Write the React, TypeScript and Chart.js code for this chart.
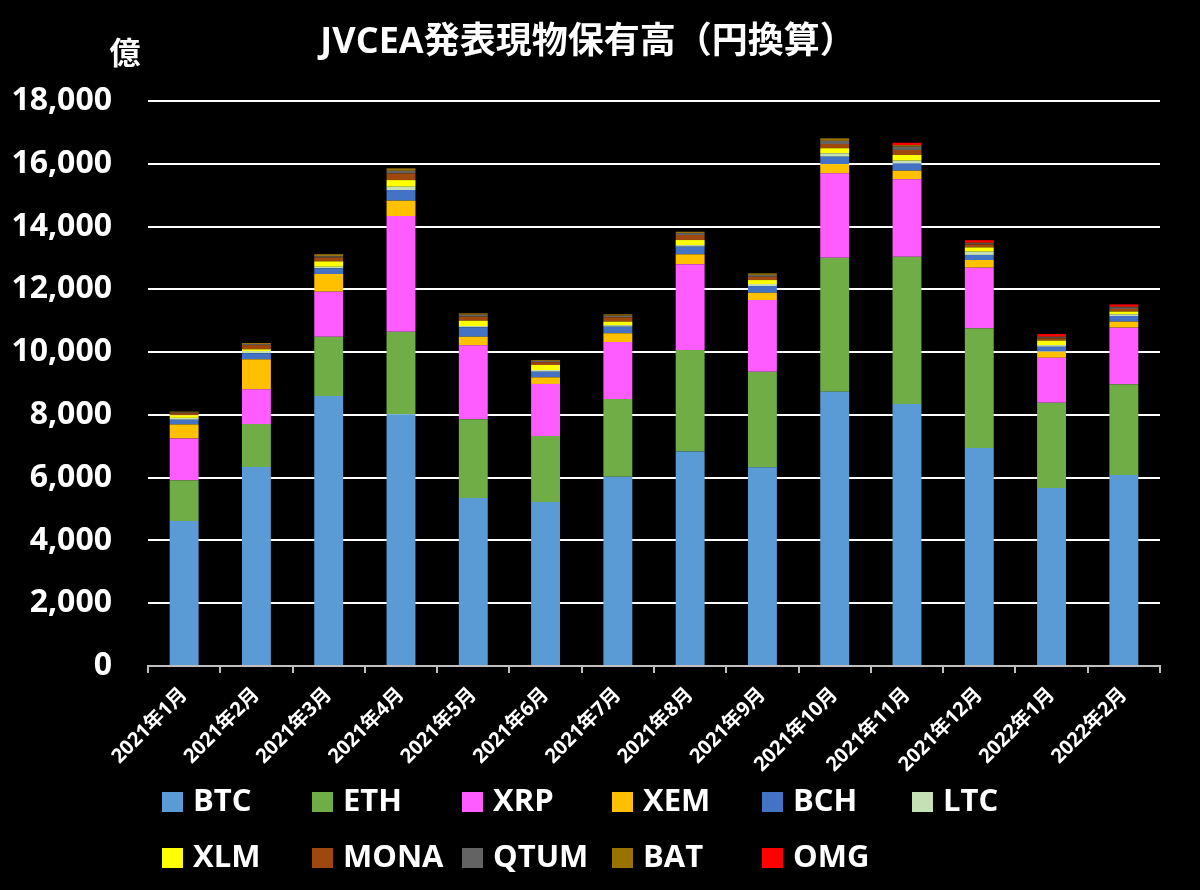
import React, { useEffect, useRef } from "react";
import { Chart, registerables } from "chart.js";

Chart.register(...registerables);

const TITLE = "JVCEA発表現物保有高（円換算）";
const UNIT = "億";
const CATEGORIES = [
  "2021年1月", "2021年2月", "2021年3月", "2021年4月", "2021年5月", "2021年6月", "2021年7月",
  "2021年8月", "2021年9月", "2021年10月", "2021年11月", "2021年12月", "2022年1月", "2022年2月",
];
const BTC = [4620, 6340, 8600, 8020, 5350, 5225, 6030, 6830, 6330, 8740, 8345, 6945, 5670, 6085];
const ETH = [1300, 1370, 1890, 2630, 2510, 2105, 2475, 3235, 3045, 4270, 4695, 3815, 2720, 2890];
const XRP = [1330, 1105, 1435, 3685, 2355, 1655, 1815, 2735, 2285, 2685, 2465, 1930, 1430, 1805];
const XEM = [445, 955, 565, 490, 275, 210, 280, 315, 230, 295, 275, 245, 195, 190];
const BCH = [150, 195, 180, 340, 300, 180, 210, 245, 215, 235, 235, 160, 155, 180];
const LTC = [60, 70, 50, 105, 40, 55, 50, 50, 65, 110, 85, 105, 55, 55];
const XLM = [80, 55, 170, 210, 170, 160, 110, 160, 125, 160, 180, 135, 140, 85];
const MONA = [70, 135, 120, 215, 130, 90, 140, 160, 105, 135, 160, 95, 75, 85];
const QTUM = [20, 30, 40, 80, 60, 40, 50, 60, 60, 100, 105, 35, 30, 50];
const BAT = [30, 35, 70, 80, 45, 30, 45, 45, 50, 80, 50, 20, 20, 20];
const OMG = [0, 0, 0, 0, 0, 0, 0, 0, 0, 0, 75, 80, 85, 75];

const SERIES_NAMES = ["BTC", "ETH", "XRP", "XEM", "BCH", "LTC", "XLM", "MONA", "QTUM", "BAT", "OMG"];
const SERIES_VALUES = [BTC, ETH, XRP, XEM, BCH, LTC, XLM, MONA, QTUM, BAT, OMG];
const SERIES_COLORS = [
  "#5B9BD5", "#70AD47", "#FF5CFF", "#FFC000", "#4472C4", "#C5E0B4",
  "#FFFF00", "#9E480E", "#636363", "#997300", "#FF0000",
];
const Y_MAX = 18000;
const Y_STEP = 2000;

const FONT = "'Open Sans', 'Noto Sans CJK JP', sans-serif";

const overlayPlugin = {
  id: "overlay",
  afterDraw(chart: any) {
    const ctx = chart.ctx;
    ctx.save();
    ctx.fillStyle = "#ffffff";
    ctx.textBaseline = "middle";
    // title
    ctx.font = `bold 36px ${FONT}`;
    ctx.textAlign = "center";
    ctx.fillText(TITLE, 588, 43);
    // unit
    ctx.font = `bold 31px 'Noto Sans CJK JP', sans-serif`;
    ctx.fillText(UNIT, 125, 52);
    // legend
    ctx.textAlign = "left";
    ctx.font = `bold 31px ${FONT}`;
    const ds = chart.data.datasets;
    ds.forEach((d: any, i: number) => {
      const row = i < 6 ? 0 : 1;
      const col = i < 6 ? i : i - 6;
      const x = 162 + col * 150;
      const y = row === 0 ? 802 : 858;
      ctx.fillStyle = d.backgroundColor;
      ctx.fillRect(x, y - 10, 21, 20);
      ctx.fillStyle = "#ffffff";
      ctx.fillText(d.label, x + 31, y);
    });
    ctx.restore();
  },
};

export default function App() {
  const ref = useRef<HTMLCanvasElement | null>(null);
  useEffect(() => {
    if (!ref.current) return;
    const chart = new Chart(ref.current, {
      type: "bar",
      data: {
        labels: CATEGORIES,
        datasets: SERIES_NAMES.map((name, i) => ({
          label: name,
          data: SERIES_VALUES[i],
          backgroundColor: SERIES_COLORS[i],
          borderWidth: 0,
          barPercentage: 0.4,
          categoryPercentage: 1,
        })),
      },
      options: {
        animation: false,
        responsive: false,
        maintainAspectRatio: false,
        layout: { padding: { top: 101, right: 40, left: 0, bottom: 110 } },
        plugins: {
          legend: { display: false },
          title: { display: false },
          tooltip: { enabled: false },
        },
        scales: {
          x: {
            stacked: true,
            afterFit: (s: any) => { s.height = 114; },
            border: { display: true, color: "#bfbfbf", width: 2 },
            grid: {
              display: true,
              offset: true,
              drawOnChartArea: false,
              drawTicks: true,
              tickLength: 7,
              color: "#bfbfbf",
              lineWidth: 2,
            },
            ticks: {
              color: "#ffffff",
              font: { family: FONT, size: 20, weight: "bold" },
              minRotation: 45,
              maxRotation: 45,
              autoSkip: false,
              padding: 10,
            },
          },
          y: {
            stacked: true,
            min: 0,
            max: Y_MAX,
            afterFit: (s: any) => { s.width = 148; },
            border: { display: false },
            grid: {
              drawTicks: false,
              color: (c: any) => (c.tick && c.tick.value === 0 ? "rgba(0,0,0,0)" : "#ffffff"),
              lineWidth: 2,
            },
            ticks: {
              stepSize: Y_STEP,
              color: "#ffffff",
              padding: 36,
              font: { family: FONT, size: 32, weight: "bold" },
              callback: (v: any) => Number(v).toLocaleString("en-US"),
            },
          },
        },
      },
      plugins: [overlayPlugin],
    });
    return () => chart.destroy();
  }, []);
  return (
    <div style={{ position: "fixed", left: 0, top: 0, width: 1200, height: 890, background: "#000" }}>
      <canvas ref={ref} width={1200} height={890} style={{ width: 1200, height: 890, display: "block" }} />
    </div>
  );
}
